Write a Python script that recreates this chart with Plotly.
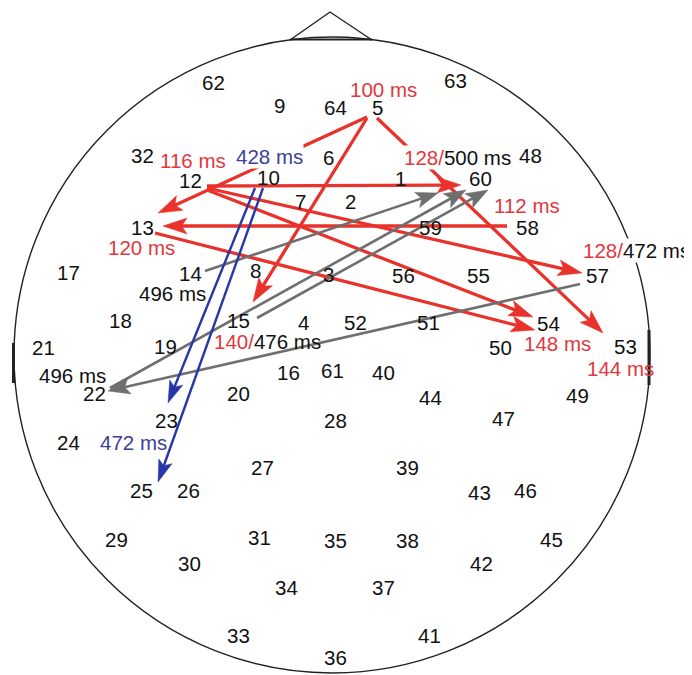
import numpy as np
import plotly.graph_objects as go

# ---------------- data ----------------
ELECTRODES = ["62", "63", "9", "64", "5", "32", "6", "48", "12", "10", "1", "60", "7", "2",
              "13", "59", "58", "17", "14", "8", "3", "56", "55", "57", "18", "15", "4", "52",
              "51", "54", "21", "19", "50", "53", "22", "16", "61", "40", "20", "44", "49",
              "23", "28", "47", "24", "27", "39", "25", "26", "43", "46", "29", "31", "35",
              "38", "45", "30", "42", "34", "37", "33", "41", "36"]
ELEC_X = [213, 455, 279, 335, 377, 142, 328, 530, 190, 268, 400, 480, 300, 350,
          142, 430, 527, 68, 190, 255, 328, 403, 478, 597, 120, 238, 303, 355,
          428, 548, 43, 165, 500, 625, 94, 288, 332, 383, 238, 430, 577,
          166, 335, 503, 68, 262, 407, 141, 188, 479, 525, 116, 259, 335,
          407, 551, 189, 481, 286, 383, 238, 429, 335]
ELEC_Y = [82, 80, 105, 107, 107, 155, 157, 155, 180, 177, 178, 178, 201, 201,
          227, 227, 227, 272, 273, 270, 274, 275, 275, 275, 320, 320, 322, 322,
          322, 323, 347, 346, 347, 346, 393, 372, 370, 372, 393, 397, 395,
          420, 420, 418, 442, 467, 467, 490, 490, 492, 490, 539, 537, 540,
          540, 539, 563, 563, 587, 587, 635, 635, 657]

# arrows: tail -> tip, group colour
ARROW_FROM = ["5", "5", "5", "12", "12", "12", "58", "13",
              "14", "22", "15", "57", "10", "10"]
ARROW_TO = ["13", "15", "53", "60", "57", "54", "13", "50",
            "60", "60", "60", "22", "23", "25"]
ARROW_X0 = [367, 367, 377, 207, 207, 207, 507, 155, 205, 110, 257, 580, 255, 263]
ARROW_Y0 = [117, 118, 118, 186, 188, 190, 226, 233, 271, 388, 318, 284, 188, 188]
ARROW_X1 = [158, 253, 603, 461, 582, 533, 163, 535, 438, 466, 488, 108, 168, 158]
ARROW_Y1 = [213, 302, 333, 185, 273, 317, 226, 330, 193, 190, 190, 391, 403, 482]
ARROW_KIND = ["early"] * 8 + ["late"] * 4 + ["blue"] * 2

# latency labels
LAT_TEXT = ["100 ms", "116 ms", "428 ms", "128/|500 ms", "112 ms", "120 ms", "128/|472 ms",
            "|496 ms", "140/|476 ms", "148 ms", "144 ms", "|496 ms", "472 ms"]
LAT_X = [383, 193, 269, 457, 527, 141, 636, 172, 267, 557, 620, 72, 133]
LAT_Y = [89, 160, 156, 157, 205, 247, 250, 293, 341, 343, 368, 375, 442]
LAT_KIND = ["red", "red", "blue", "mix", "red", "red", "mix", "mix", "mix", "red", "red", "mix", "blue"]
LAT_BG = [False, False, True, True, False, False, True, False, False, False, False, False, False]

# ---------------- style ----------------
RED = "#e8322b"
RED_TXT = "#e0383e"
GRAY = "#6f6f6f"
BLUE = "#2637a6"
BLUE_TXT = "#3c4098"
FONT = "Liberation Sans, Arial, sans-serif"
FS = 20.5
STYLE = {"early": (RED, 3.3, 24, 8), "late": (GRAY, 2.6, 22, 8), "blue": (BLUE, 2.4, 22, 7)}
PAGE_OFF = 8  # default body margin of the html page

fig = go.Figure()

# head outline
CX, CY, R = 332, 355, 318
line_k = dict(color="#222", width=1.4)
fig.add_shape(type="circle", x0=CX - R, x1=CX + R, y0=CY - R, y1=CY + R, line=line_k, layer="below")
fig.add_shape(type="path", path="M 290 40 L 330 12 L 372 40", line=line_k, layer="below")
fig.add_shape(type="line", x0=290, x1=372, y0=39.5, y1=39.5, line=dict(color="#222", width=1.8), layer="below")
fig.add_shape(type="line", x0=CX - R - 0.5, x1=CX - R - 0.5, y0=343, y1=383, line=dict(color="#222", width=3), layer="below")
fig.add_shape(type="line", x0=CX + R - 1, x1=CX + R - 1, y0=330, y1=385, line=dict(color="#222", width=3), layer="below")

# arrows
for x0, y0, x1, y1, kind in zip(ARROW_X0, ARROW_Y0, ARROW_X1, ARROW_Y1, ARROW_KIND):
    col, w, L, W = STYLE[kind]
    p0 = np.array([x0, y0], float)
    p1 = np.array([x1, y1], float)
    d = (p1 - p0) / np.linalg.norm(p1 - p0)
    n = np.array([-d[1], d[0]])
    shaft_end = p1 - d * L * 0.7
    fig.add_trace(go.Scatter(x=[p0[0], shaft_end[0]], y=[p0[1], shaft_end[1]], mode="lines",
                             line=dict(color=col, width=w), hoverinfo="skip", showlegend=False))
    base = p1 - d * L
    notch = p1 - d * L * 0.78
    poly = np.array([p1, base + n * W, notch, base - n * W, p1])
    fig.add_trace(go.Scatter(x=poly[:, 0], y=poly[:, 1], mode="lines", fill="toself",
                             fillcolor=col, line=dict(color=col, width=0.5),
                             hoverinfo="skip", showlegend=False))

annotations = []
for t, x, y in zip(ELECTRODES, ELEC_X, ELEC_Y):
    annotations.append(dict(x=x, y=y, text=t, showarrow=False, xanchor="center", yanchor="middle",
                            font=dict(family=FONT, size=FS, color="#111")))
for t, x, y, kind, bg in zip(LAT_TEXT, LAT_X, LAT_Y, LAT_KIND, LAT_BG):
    if kind == "red":
        txt, col = t, RED_TXT
    elif kind == "blue":
        txt, col = t, BLUE_TXT
    else:
        a, b = t.split("|")
        txt = (f'<span style="color:{RED_TXT}">{a}</span>' if a else "") + b
        col = "#111"
    annotations.append(dict(x=x, y=y, text=txt, showarrow=False, xanchor="center", yanchor="middle",
                            bgcolor="white" if bg else "rgba(0,0,0,0)", borderpad=0,
                            font=dict(family=FONT, size=FS, color=col)))

fig.update_layout(
    width=692 - PAGE_OFF, height=675 - PAGE_OFF, margin=dict(l=0, r=0, t=0, b=0),
    paper_bgcolor="white", plot_bgcolor="white",
    xaxis=dict(range=[PAGE_OFF, 692], visible=False, fixedrange=True),
    yaxis=dict(range=[675, PAGE_OFF], visible=False, fixedrange=True),
    annotations=annotations, showlegend=False,
)
fig.write_html("out.html")
